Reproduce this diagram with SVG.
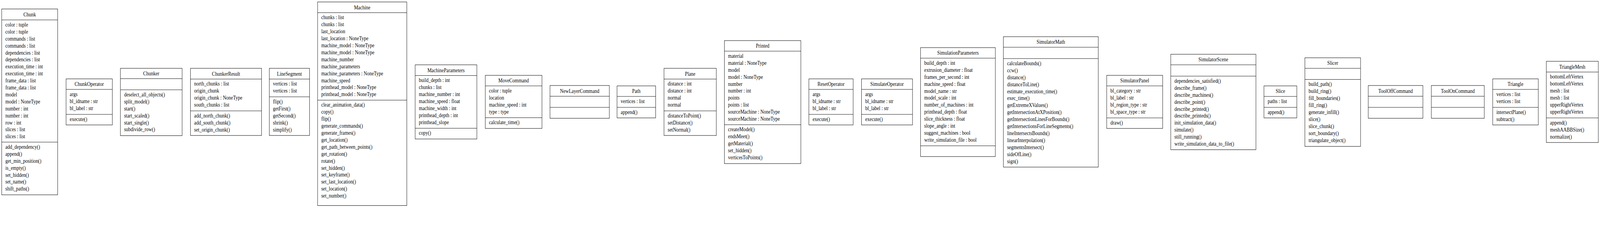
<svg xmlns="http://www.w3.org/2000/svg" width="4771" height="584" viewBox="0 0 4771 584" preserveAspectRatio="none">
<style>
:root{width:100vw;height:100vh;display:block}
.bg{fill:#fff}
.box{fill:#fff;stroke:#000;stroke-width:1}
.sep{stroke:#000;stroke-width:1}
text{font-family:"Liberation Serif","Times New Roman",serif;font-size:14px;fill:#000}
.t{text-anchor:middle}
</style>
<rect class="bg" x="0" y="0" width="4771" height="584"/>
<g id="connectors"></g>

<g id="node-Chunk">
<rect class="box" x="5" y="23" width="167" height="476"/>
<line class="sep" x1="5" y1="51" x2="172" y2="51"/>
<line class="sep" x1="5" y1="364" x2="172" y2="364"/>
<text class="t" x="88.5" y="42">Chunk</text>
<text x="16" y="68"><tspan x="16" dy="0">color : tuple</tspan><tspan x="16" dy="17.9">color : tuple</tspan><tspan x="16" dy="17.9">commands : list</tspan><tspan x="16" dy="17.9">commands : list</tspan><tspan x="16" dy="17.9">dependencies : list</tspan><tspan x="16" dy="17.9">dependencies : list</tspan><tspan x="16" dy="17.9">execution_time : int</tspan><tspan x="16" dy="17.9">execution_time : int</tspan><tspan x="16" dy="17.9">frame_data : list</tspan><tspan x="16" dy="17.9">frame_data : list</tspan><tspan x="16" dy="17.9">model</tspan><tspan x="16" dy="17.9">model : NoneType</tspan><tspan x="16" dy="17.9">number : int</tspan><tspan x="16" dy="17.9">number : int</tspan><tspan x="16" dy="17.9">row : int</tspan><tspan x="16" dy="17.9">slices : list</tspan><tspan x="16" dy="17.9">slices : list</tspan></text>
<text x="16" y="381"><tspan x="16" dy="0">add_dependency()</tspan><tspan x="16" dy="17.9">append()</tspan><tspan x="16" dy="17.9">get_min_position()</tspan><tspan x="16" dy="17.9">is_empty()</tspan><tspan x="16" dy="17.9">set_hidden()</tspan><tspan x="16" dy="17.9">set_name()</tspan><tspan x="16" dy="17.9">shift_paths()</tspan></text>
</g>

<g id="node-ChunkOperator">
<rect class="box" x="197" y="202" width="138" height="118"/>
<line class="sep" x1="197" y1="229" x2="335" y2="229"/>
<line class="sep" x1="197" y1="293" x2="335" y2="293"/>
<text class="t" x="266" y="220.5">ChunkOperator</text>
<text x="208" y="246"><tspan x="208" dy="0">args</tspan><tspan x="208" dy="17.9">bl_idname : str</tspan><tspan x="208" dy="17.9">bl_label : str</tspan></text>
<text x="208" y="310">execute()</text>
</g>

<g id="node-Chunker">
<rect class="box" x="359" y="175" width="184" height="172.5"/>
<line class="sep" x1="359" y1="201.5" x2="543" y2="201.5"/>
<line class="sep" x1="359" y1="230" x2="543" y2="230"/>
<text class="t" x="451" y="193.3">Chunker</text>
<text x="370" y="247"><tspan x="370" dy="0">deselect_all_objects()</tspan><tspan x="370" dy="17.9">split_model()</tspan><tspan x="370" dy="17.9">start()</tspan><tspan x="370" dy="17.9">start_scaled()</tspan><tspan x="370" dy="17.9">start_single()</tspan><tspan x="370" dy="17.9">subdivide_row()</tspan></text>
</g>

<g id="node-ChunkerResult">
<rect class="box" x="568" y="175" width="212" height="172"/>
<line class="sep" x1="568" y1="202.5" x2="780" y2="202.5"/>
<line class="sep" x1="568" y1="284" x2="780" y2="284"/>
<text class="t" x="674" y="193.8">ChunkerResult</text>
<text x="579" y="219.5"><tspan x="579" dy="0">north_chunks : list</tspan><tspan x="579" dy="17.9">origin_chunk</tspan><tspan x="579" dy="17.9">origin_chunk : NoneType</tspan><tspan x="579" dy="17.9">south_chunks : list</tspan></text>
<text x="579" y="301"><tspan x="579" dy="0">add_north_chunk()</tspan><tspan x="579" dy="17.9">add_south_chunk()</tspan><tspan x="579" dy="17.9">set_origin_chunk()</tspan></text>
</g>

<g id="node-LineSegment">
<rect class="box" x="803" y="175" width="120" height="172"/>
<line class="sep" x1="803" y1="202.5" x2="923" y2="202.5"/>
<line class="sep" x1="803" y1="248" x2="923" y2="248"/>
<text class="t" x="863" y="193.8">LineSegment</text>
<text x="814" y="219.5"><tspan x="814" dy="0">vertices : list</tspan><tspan x="814" dy="17.9">vertices : list</tspan></text>
<text x="814" y="265"><tspan x="814" dy="0">flip()</tspan><tspan x="814" dy="17.9">getFirst()</tspan><tspan x="814" dy="17.9">getSecond()</tspan><tspan x="814" dy="17.9">shrink()</tspan><tspan x="814" dy="17.9">simplify()</tspan></text>
</g>

<g id="node-Machine">
<rect class="box" x="947" y="5" width="266" height="521.5"/>
<line class="sep" x1="947" y1="32.5" x2="1213" y2="32.5"/>
<line class="sep" x1="947" y1="256.5" x2="1213" y2="256.5"/>
<text class="t" x="1080" y="23.8">Machine</text>
<text x="958" y="49.5"><tspan x="958" dy="0">chunks : list</tspan><tspan x="958" dy="17.9">chunks : list</tspan><tspan x="958" dy="17.9">last_location</tspan><tspan x="958" dy="17.9">last_location : NoneType</tspan><tspan x="958" dy="17.9">machine_model : NoneType</tspan><tspan x="958" dy="17.9">machine_model : NoneType</tspan><tspan x="958" dy="17.9">machine_number</tspan><tspan x="958" dy="17.9">machine_parameters</tspan><tspan x="958" dy="17.9">machine_parameters : NoneType</tspan><tspan x="958" dy="17.9">machine_speed</tspan><tspan x="958" dy="17.9">printhead_model : NoneType</tspan><tspan x="958" dy="17.9">printhead_model : NoneType</tspan></text>
<text x="958" y="273.5"><tspan x="958" dy="0">clear_animation_data()</tspan><tspan x="958" dy="17.9">copy()</tspan><tspan x="958" dy="17.9">flip()</tspan><tspan x="958" dy="17.9">generate_commands()</tspan><tspan x="958" dy="17.9">generate_frames()</tspan><tspan x="958" dy="17.9">get_location()</tspan><tspan x="958" dy="17.9">get_path_between_points()</tspan><tspan x="958" dy="17.9">get_rotation()</tspan><tspan x="958" dy="17.9">rotate()</tspan><tspan x="958" dy="17.9">set_hidden()</tspan><tspan x="958" dy="17.9">set_keyframe()</tspan><tspan x="958" dy="17.9">set_last_location()</tspan><tspan x="958" dy="17.9">set_location()</tspan><tspan x="958" dy="17.9">set_number()</tspan></text>
</g>

<g id="node-MachineParameters">
<rect class="box" x="1238" y="166" width="184" height="190"/>
<line class="sep" x1="1238" y1="193.5" x2="1422" y2="193.5"/>
<line class="sep" x1="1238" y1="328.5" x2="1422" y2="328.5"/>
<text class="t" x="1330" y="184.8">MachineParameters</text>
<text x="1249" y="210.5"><tspan x="1249" dy="0">build_depth : int</tspan><tspan x="1249" dy="17.9">chunks : list</tspan><tspan x="1249" dy="17.9">machine_number : int</tspan><tspan x="1249" dy="17.9">machine_speed : float</tspan><tspan x="1249" dy="17.9">machine_width : int</tspan><tspan x="1249" dy="17.9">printhead_depth : int</tspan><tspan x="1249" dy="17.9">printhead_slope</tspan></text>
<text x="1249" y="345.5">copy()</text>
</g>

<g id="node-MoveCommand">
<rect class="box" x="1447" y="193" width="169" height="136"/>
<line class="sep" x1="1447" y1="220" x2="1616" y2="220"/>
<line class="sep" x1="1447" y1="301.5" x2="1616" y2="301.5"/>
<text class="t" x="1531.5" y="211.5">MoveCommand</text>
<text x="1458" y="237"><tspan x="1458" dy="0">color : tuple</tspan><tspan x="1458" dy="17.9">location</tspan><tspan x="1458" dy="17.9">machine_speed : int</tspan><tspan x="1458" dy="17.9">type : type</tspan></text>
<text x="1458" y="318.5">calculate_time()</text>
</g>

<g id="node-NewLayerCommand">
<rect class="box" x="1640" y="219" width="177" height="84"/>
<line class="sep" x1="1640" y1="246.5" x2="1817" y2="246.5"/>
<line class="sep" x1="1640" y1="275" x2="1817" y2="275"/>
<text class="t" x="1728.5" y="237.8">NewLayerCommand</text>
</g>

<g id="node-Path">
<rect class="box" x="1840" y="220" width="115" height="82"/>
<line class="sep" x1="1840" y1="247" x2="1955" y2="247"/>
<line class="sep" x1="1840" y1="275" x2="1955" y2="275"/>
<text class="t" x="1897.5" y="238.5">Path</text>
<text x="1851" y="264">vertices : list</text>
<text x="1851" y="292">append()</text>
</g>

<g id="node-Plane">
<rect class="box" x="1980" y="175" width="156" height="172"/>
<line class="sep" x1="1980" y1="202.5" x2="2136" y2="202.5"/>
<line class="sep" x1="1980" y1="284" x2="2136" y2="284"/>
<text class="t" x="2058" y="193.8">Plane</text>
<text x="1991" y="219.5"><tspan x="1991" dy="0">distance : int</tspan><tspan x="1991" dy="17.9">distance : int</tspan><tspan x="1991" dy="17.9">normal</tspan><tspan x="1991" dy="17.9">normal</tspan></text>
<text x="1991" y="301"><tspan x="1991" dy="0">distanceToPoint()</tspan><tspan x="1991" dy="17.9">setDistance()</tspan><tspan x="1991" dy="17.9">setNormal()</tspan></text>
</g>

<g id="node-Printed">
<rect class="box" x="2160" y="104" width="228" height="315"/>
<line class="sep" x1="2160" y1="131" x2="2388" y2="131"/>
<line class="sep" x1="2160" y1="319.5" x2="2388" y2="319.5"/>
<text class="t" x="2274" y="122.5">Printed</text>
<text x="2171" y="148"><tspan x="2171" dy="0">material</tspan><tspan x="2171" dy="17.9">material : NoneType</tspan><tspan x="2171" dy="17.9">model</tspan><tspan x="2171" dy="17.9">model : NoneType</tspan><tspan x="2171" dy="17.9">number</tspan><tspan x="2171" dy="17.9">number : int</tspan><tspan x="2171" dy="17.9">points</tspan><tspan x="2171" dy="17.9">points : list</tspan><tspan x="2171" dy="17.9">sourceMachine : NoneType</tspan><tspan x="2171" dy="17.9">sourceMachine : NoneType</tspan></text>
<text x="2171" y="336.5"><tspan x="2171" dy="0">createModel()</tspan><tspan x="2171" dy="17.9">endsMeet()</tspan><tspan x="2171" dy="17.9">getMaterial()</tspan><tspan x="2171" dy="17.9">set_hidden()</tspan><tspan x="2171" dy="17.9">verticesToPoints()</tspan></text>
</g>

<g id="node-ResetOperator">
<rect class="box" x="2412" y="202" width="132" height="118"/>
<line class="sep" x1="2412" y1="229" x2="2544" y2="229"/>
<line class="sep" x1="2412" y1="293" x2="2544" y2="293"/>
<text class="t" x="2478" y="220.5">ResetOperator</text>
<text x="2423" y="246"><tspan x="2423" dy="0">args</tspan><tspan x="2423" dy="17.9">bl_idname : str</tspan><tspan x="2423" dy="17.9">bl_label : str</tspan></text>
<text x="2423" y="310">execute()</text>
</g>

<g id="node-SimulateOperator">
<rect class="box" x="2569" y="202" width="152" height="118"/>
<line class="sep" x1="2569" y1="229" x2="2721" y2="229"/>
<line class="sep" x1="2569" y1="293" x2="2721" y2="293"/>
<text class="t" x="2645" y="220.5">SimulateOperator</text>
<text x="2580" y="246"><tspan x="2580" dy="0">args</tspan><tspan x="2580" dy="17.9">bl_idname : str</tspan><tspan x="2580" dy="17.9">bl_label : str</tspan></text>
<text x="2580" y="310">execute()</text>
</g>

<g id="node-SimulationParameters">
<rect class="box" x="2745" y="122" width="223" height="279"/>
<line class="sep" x1="2745" y1="149" x2="2968" y2="149"/>
<line class="sep" x1="2745" y1="373.5" x2="2968" y2="373.5"/>
<text class="t" x="2856.5" y="140.5">SimulationParameters</text>
<text x="2756" y="166"><tspan x="2756" dy="0">build_depth : int</tspan><tspan x="2756" dy="17.9">extrusion_diameter : float</tspan><tspan x="2756" dy="17.9">frames_per_second : int</tspan><tspan x="2756" dy="17.9">machine_speed : float</tspan><tspan x="2756" dy="17.9">model_name : str</tspan><tspan x="2756" dy="17.9">model_scale : int</tspan><tspan x="2756" dy="17.9">number_of_machines : int</tspan><tspan x="2756" dy="17.9">printhead_depth : float</tspan><tspan x="2756" dy="17.9">slice_thickness : float</tspan><tspan x="2756" dy="17.9">slope_angle : int</tspan><tspan x="2756" dy="17.9">suggest_machines : bool</tspan><tspan x="2756" dy="17.9">write_simulation_file : bool</tspan></text>
</g>

<g id="node-SimulatorMath">
<rect class="box" x="2992" y="94" width="283" height="334"/>
<line class="sep" x1="2992" y1="121" x2="3275" y2="121"/>
<line class="sep" x1="2992" y1="150" x2="3275" y2="150"/>
<text class="t" x="3133.5" y="112.5">SimulatorMath</text>
<text x="3003" y="167"><tspan x="3003" dy="0">calculateBounds()</tspan><tspan x="3003" dy="17.9">ccw()</tspan><tspan x="3003" dy="17.9">distance()</tspan><tspan x="3003" dy="17.9">distanceToLine()</tspan><tspan x="3003" dy="17.9">estimate_execution_time()</tspan><tspan x="3003" dy="17.9">exec_time()</tspan><tspan x="3003" dy="17.9">getExtremeXValues()</tspan><tspan x="3003" dy="17.9">getIntersectionAtXPosition()</tspan><tspan x="3003" dy="17.9">getIntersectionLinesForBounds()</tspan><tspan x="3003" dy="17.9">getIntersectionsForLineSegments()</tspan><tspan x="3003" dy="17.9">lineIntersectsBounds()</tspan><tspan x="3003" dy="17.9">linearInterpolation()</tspan><tspan x="3003" dy="17.9">segmentsIntersect()</tspan><tspan x="3003" dy="17.9">sideOfLine()</tspan><tspan x="3003" dy="17.9">sign()</tspan></text>
</g>

<g id="node-SimulatorPanel">
<rect class="box" x="3300" y="193" width="167" height="136"/>
<line class="sep" x1="3300" y1="220" x2="3467" y2="220"/>
<line class="sep" x1="3300" y1="302" x2="3467" y2="302"/>
<text class="t" x="3383.5" y="211.5">SimulatorPanel</text>
<text x="3311" y="237"><tspan x="3311" dy="0">bl_category : str</tspan><tspan x="3311" dy="17.9">bl_label : str</tspan><tspan x="3311" dy="17.9">bl_region_type : str</tspan><tspan x="3311" dy="17.9">bl_space_type : str</tspan></text>
<text x="3311" y="319">draw()</text>
</g>

<g id="node-SimulatorScene">
<rect class="box" x="3491" y="139" width="254" height="244.5"/>
<line class="sep" x1="3491" y1="166" x2="3745" y2="166"/>
<line class="sep" x1="3491" y1="195" x2="3745" y2="195"/>
<text class="t" x="3618" y="157.5">SimulatorScene</text>
<text x="3502" y="212"><tspan x="3502" dy="0">dependencies_satisfied()</tspan><tspan x="3502" dy="17.9">describe_frame()</tspan><tspan x="3502" dy="17.9">describe_machines()</tspan><tspan x="3502" dy="17.9">describe_point()</tspan><tspan x="3502" dy="17.9">describe_printed()</tspan><tspan x="3502" dy="17.9">describe_printeds()</tspan><tspan x="3502" dy="17.9">init_simulation_data()</tspan><tspan x="3502" dy="17.9">simulate()</tspan><tspan x="3502" dy="17.9">still_running()</tspan><tspan x="3502" dy="17.9">write_simulation_data_to_file()</tspan></text>
</g>

<g id="node-Slice">
<rect class="box" x="3769" y="220" width="98" height="82"/>
<line class="sep" x1="3769" y1="247" x2="3867" y2="247"/>
<line class="sep" x1="3769" y1="275" x2="3867" y2="275"/>
<text class="t" x="3818" y="238.5">Slice</text>
<text x="3780" y="264">paths : list</text>
<text x="3780" y="292">append()</text>
</g>

<g id="node-Slicer">
<rect class="box" x="3891" y="148" width="166" height="227"/>
<line class="sep" x1="3891" y1="175" x2="4057" y2="175"/>
<line class="sep" x1="3891" y1="203.5" x2="4057" y2="203.5"/>
<text class="t" x="3974" y="166.5">Slicer</text>
<text x="3902" y="220.5"><tspan x="3902" dy="0">build_path()</tspan><tspan x="3902" dy="17.9">build_ring()</tspan><tspan x="3902" dy="17.9">fill_boundaries()</tspan><tspan x="3902" dy="17.9">fill_ring()</tspan><tspan x="3902" dy="17.9">generate_infill()</tspan><tspan x="3902" dy="17.9">slice()</tspan><tspan x="3902" dy="17.9">slice_chunk()</tspan><tspan x="3902" dy="17.9">sort_boundary()</tspan><tspan x="3902" dy="17.9">triangulate_object()</tspan></text>
</g>

<g id="node-ToolOffCommand">
<rect class="box" x="4080" y="219" width="163" height="84"/>
<line class="sep" x1="4080" y1="246.5" x2="4243" y2="246.5"/>
<line class="sep" x1="4080" y1="275" x2="4243" y2="275"/>
<text class="t" x="4161.5" y="237.8">ToolOffCommand</text>
</g>

<g id="node-ToolOnCommand">
<rect class="box" x="4268" y="219" width="158" height="84"/>
<line class="sep" x1="4268" y1="246.5" x2="4426" y2="246.5"/>
<line class="sep" x1="4268" y1="275" x2="4426" y2="275"/>
<text class="t" x="4347" y="237.8">ToolOnCommand</text>
</g>

<g id="node-Triangle">
<rect class="box" x="4451" y="202" width="136" height="118"/>
<line class="sep" x1="4451" y1="229" x2="4587" y2="229"/>
<line class="sep" x1="4451" y1="275" x2="4587" y2="275"/>
<text class="t" x="4519" y="220.5">Triangle</text>
<text x="4462" y="246"><tspan x="4462" dy="0">vertices : list</tspan><tspan x="4462" dy="17.9">vertices : list</tspan></text>
<text x="4462" y="292"><tspan x="4462" dy="0">intersectPlane()</tspan><tspan x="4462" dy="17.9">subtract()</tspan></text>
</g>

<g id="node-TriangleMesh">
<rect class="box" x="4611" y="157" width="155" height="208"/>
<line class="sep" x1="4611" y1="184.5" x2="4766" y2="184.5"/>
<line class="sep" x1="4611" y1="302" x2="4766" y2="302"/>
<text class="t" x="4688.5" y="175.8">TriangleMesh</text>
<text x="4622" y="201.5"><tspan x="4622" dy="0">bottomLeftVertex</tspan><tspan x="4622" dy="17.9">bottomLeftVertex</tspan><tspan x="4622" dy="17.9">mesh : list</tspan><tspan x="4622" dy="17.9">mesh : list</tspan><tspan x="4622" dy="17.9">upperRightVertex</tspan><tspan x="4622" dy="17.9">upperRightVertex</tspan></text>
<text x="4622" y="319"><tspan x="4622" dy="0">append()</tspan><tspan x="4622" dy="17.9">meshAABBSize()</tspan><tspan x="4622" dy="17.9">normalize()</tspan></text>
</g>
</svg>
